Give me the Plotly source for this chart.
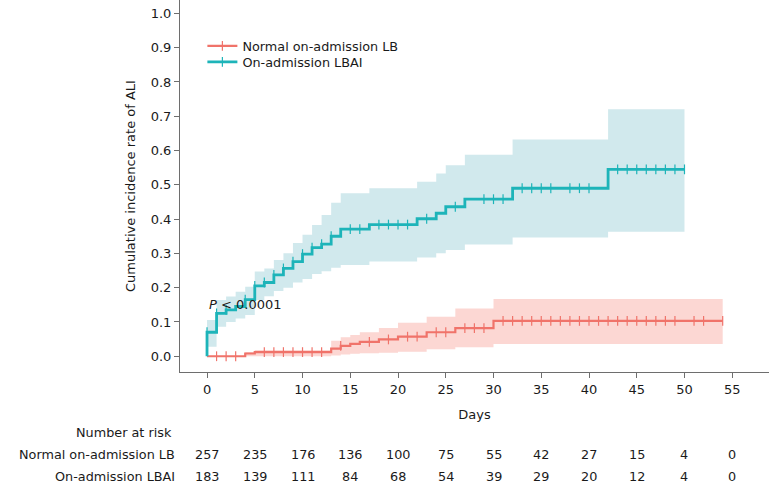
import numpy as np
import plotly.graph_objects as go

# ---------------- data ----------------
group_names = ["Normal on-admission LB", "On-admission LBAI"]

# Normal on-admission LB (red)
lb_time = [4, 5, 13, 14, 15, 16, 18, 20, 23, 26, 30]
lb_cum = [0.008, 0.012, 0.022, 0.030, 0.036, 0.042, 0.049, 0.057, 0.070, 0.082, 0.103]
lb_upper = [0.012, 0.018, 0.045, 0.055, 0.062, 0.070, 0.082, 0.098, 0.115, 0.139, 0.167]
lb_lower = [0.000, 0.000, 0.002, 0.005, 0.007, 0.009, 0.010, 0.013, 0.020, 0.026, 0.036]
lb_end = 54
lb_censor = [1, 2, 3, 6, 7, 8, 9, 10, 11, 12, 14, 17, 19, 21, 22, 24, 25, 27, 28, 29,
             31, 32, 33, 34, 35, 36, 37, 38, 39, 40, 41, 42, 43, 44, 45, 46, 47, 48, 49,
             51, 52, 54]

# On-admission LBAI (teal)
lbai_time = [0, 1, 2, 3, 4, 5, 6, 7, 8, 9, 10, 11, 12, 13, 14, 17, 22, 24, 25, 27, 32, 42]
lbai_cum = [0.070, 0.125, 0.135, 0.145, 0.165, 0.205, 0.215, 0.237, 0.256, 0.276, 0.298,
            0.317, 0.327, 0.350, 0.371, 0.384, 0.401, 0.417, 0.436, 0.458, 0.490, 0.545]
lbai_upper = [0.106, 0.164, 0.174, 0.188, 0.203, 0.247, 0.256, 0.281, 0.300, 0.330, 0.354,
              0.383, 0.412, 0.448, 0.475, 0.490, 0.509, 0.533, 0.557, 0.588, 0.632, 0.720]
lbai_lower = [0.028, 0.086, 0.100, 0.110, 0.120, 0.164, 0.175, 0.190, 0.200, 0.215, 0.225,
              0.240, 0.248, 0.258, 0.266, 0.276, 0.288, 0.300, 0.310, 0.326, 0.346, 0.363]
lbai_end = 50
lbai_censor = [0, 1, 2, 4, 5, 6, 7, 8, 9, 10, 11, 12, 13, 15, 16, 18, 19, 20, 21, 23, 26,
               29, 30, 31, 33, 34, 35, 36, 38, 39, 40, 43, 44, 45, 46, 47, 48, 49, 50]

risk_days = [0, 5, 10, 15, 20, 25, 30, 35, 40, 45, 50, 55]
risk_lb = [257, 235, 176, 136, 100, 75, 55, 42, 27, 15, 4, 0]
risk_lbai = [183, 139, 111, 84, 68, 54, 39, 29, 20, 12, 4, 0]

x_ticks = [0, 5, 10, 15, 20, 25, 30, 35, 40, 45, 50, 55]
y_ticks = [0.0, 0.1, 0.2, 0.3, 0.4, 0.5, 0.6, 0.7, 0.8, 0.9, 1.0]

p_text = "<i>P</i> < 0.0001"

# ---------------- styles ----------------
FONT = "DejaVu Sans"
RED = "#F0736A"
TEAL = "#1DB4B9"
RED_BAND = "rgba(250,190,184,0.62)"
TEAL_BAND = "rgba(180,220,226,0.62)"
AXIS = "#6e6e6e"
TXT = "#1a1a1a"


def step_xy(times, vals, end):
    x = [0] + list(times) + [end]
    y = [0] + list(vals) + [vals[-1]]
    return x, y


def value_at(times, vals, t):
    idx = np.searchsorted(np.array(times), t, side="right") - 1
    return vals[idx] if idx >= 0 else 0.0


fig = go.Figure()

series = [
    (group_names[0], lb_time, lb_cum, lb_upper, lb_lower, lb_end, lb_censor, RED, RED_BAND, 2.2),
    (group_names[1], lbai_time, lbai_cum, lbai_upper, lbai_lower, lbai_end, lbai_censor, TEAL, TEAL_BAND, 2.8),
]

# bands
for name, t, c, up, lo, end, cens, col, band, lw in series:
    xl, yl = step_xy(t, lo, end)
    xu, yu = step_xy(t, up, end)
    fig.add_trace(go.Scatter(x=xl, y=yl, mode="lines", line=dict(width=0, shape="hv", color=band),
                             showlegend=False, hoverinfo="skip"))
    fig.add_trace(go.Scatter(x=xu, y=yu, mode="lines", line=dict(width=0, shape="hv", color=band),
                             fill="tonexty", fillcolor=band, showlegend=False, hoverinfo="skip"))

# lines + censor marks
legend_ids = ["legend", "legend2"]
for i, (name, t, c, up, lo, end, cens, col, band, lw) in enumerate(series):
    xs, ys = step_xy(t, c, end)
    fig.add_trace(go.Scatter(x=xs, y=ys, mode="lines", line=dict(width=lw, shape="hv", color=col),
                             name=name, showlegend=False, hoverinfo="skip"))
    cy = [value_at(t, c, ct) for ct in cens]
    fig.add_trace(go.Scatter(x=cens, y=cy, mode="markers",
                             marker=dict(symbol="line-ns", size=7, line=dict(width=1.2, color=col)),
                             name=name, showlegend=False, hoverinfo="skip"))
    # legend entry
    fig.add_trace(go.Scatter(x=[None], y=[None], mode="lines+markers",
                             line=dict(width=lw, color=col),
                             marker=dict(symbol="line-ns", size=7, line=dict(width=1.2, color=col)),
                             name=name, showlegend=True, legend=legend_ids[i]))

# p-value
fig.add_annotation(x=0, y=0.152, xref="x", yref="y", text=p_text, showarrow=False,
                   xanchor="left", yanchor="middle", font=dict(family=FONT, size=13, color=TXT))

# risk table
PLOT_H = 372.0
def py(pix):
    return (PLOT_H - pix) / PLOT_H

fig.add_annotation(x=-0.011, y=py(432), xref="paper", yref="paper", text="Number at risk",
                   showarrow=False, xanchor="right", yanchor="middle",
                   font=dict(family=FONT, size=12.8, color=TXT))
for row_name, row_vals, ypix in [(group_names[0], risk_lb, 454), (group_names[1], risk_lbai, 476)]:
    fig.add_annotation(x=-0.005, y=py(ypix), xref="paper", yref="paper", text=row_name,
                       showarrow=False, xanchor="right", yanchor="middle",
                       font=dict(family=FONT, size=12.8, color=TXT))
    for d, v in zip(risk_days, row_vals):
        fig.add_annotation(x=d, y=py(ypix), xref="x", yref="paper", text=str(v),
                           showarrow=False, xanchor="center", yanchor="middle",
                           font=dict(family=FONT, size=12.8, color=TXT))

leg_common = dict(xanchor="left", yanchor="middle", bgcolor="rgba(0,0,0,0)",
                  font=dict(family=FONT, size=12.8, color=TXT), itemwidth=30)

fig.update_layout(
    width=769, height=486,
    margin=dict(l=180, r=0, t=0, b=114),
    paper_bgcolor="white", plot_bgcolor="white",
    font=dict(family=FONT, size=13, color=TXT),
    legend=dict(x=0.038, y=py(46), **leg_common),
    legend2=dict(x=0.038, y=py(62), **leg_common),
    xaxis=dict(range=[-2.83, 58.85], tickmode="array", tickvals=x_ticks,
               ticktext=[str(v) for v in x_ticks],
               showline=True, linecolor=AXIS, linewidth=1, ticks="outside", ticklen=5,
               tickcolor=AXIS, showgrid=False, zeroline=False,
               tickfont=dict(family=FONT, size=13, color=TXT),
               title=dict(text="Days", standoff=14, font=dict(family=FONT, size=13, color=TXT))),
    yaxis=dict(range=[-0.046, 1.039], tickmode="array", tickvals=y_ticks,
               ticktext=[f"{v:.1f}" for v in y_ticks],
               showline=True, linecolor=AXIS, linewidth=1, ticks="outside", ticklen=5,
               tickcolor=AXIS, showgrid=False, zeroline=False,
               tickfont=dict(family=FONT, size=13, color=TXT),
               title=dict(text="Cumulative incidence rate of ALI", standoff=12,
                          font=dict(family=FONT, size=13, color=TXT))),
)

fig.write_html("out.html", config={"displayModeBar": False},
               post_script="document.body.style.margin='0px';document.body.style.padding='0px';")
